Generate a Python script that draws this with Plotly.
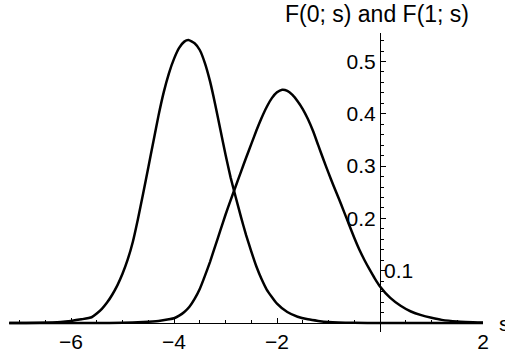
import plotly.graph_objects as go

# F(0; s): values
s0 = [-7.2, -6.6, -6.2, -6.0, -5.8, -5.6, -5.5, -5.4, -5.3, -5.2, -5.1, -5.0, -4.9, -4.8,
      -4.7, -4.6, -4.5, -4.4, -4.3, -4.2, -4.1, -4.0, -3.9, -3.8, -3.72, -3.6, -3.5, -3.4,
      -3.3, -3.2, -3.1, -3.0, -2.9, -2.8, -2.7, -2.6, -2.5, -2.4, -2.3, -2.2, -2.0, -1.8,
      -1.6, -1.4, -1.2, -1.0, -0.5, 0.0, 1.0, 2.0]
f0 = [0.0, 0.0005, 0.002, 0.004, 0.007, 0.011, 0.018, 0.027, 0.039, 0.054, 0.072, 0.094,
      0.121, 0.155, 0.199, 0.247, 0.297, 0.347, 0.397, 0.441, 0.477, 0.505, 0.526, 0.538,
      0.541, 0.535, 0.522, 0.497, 0.462, 0.418, 0.370, 0.322, 0.278, 0.240, 0.203, 0.168,
      0.137, 0.108, 0.084, 0.064, 0.037, 0.021, 0.012, 0.007, 0.004, 0.002, 0.0004, 0.0,
      0.0, 0.0]

# F(1; s): values
s1 = [-7.2, -5.5, -5.0, -4.6, -4.3, -4.1, -4.0, -3.9, -3.8, -3.7, -3.6, -3.5, -3.4, -3.3,
      -3.2, -3.1, -3.0, -2.9, -2.8, -2.7, -2.6, -2.5, -2.4, -2.3, -2.2, -2.1, -2.0, -1.9,
      -1.8, -1.7, -1.6, -1.5, -1.4, -1.3, -1.2, -1.1, -1.0, -0.9, -0.8, -0.7, -0.6, -0.5,
      -0.4, -0.3, -0.2, -0.1, 0.0, 0.2, 0.4, 0.6, 0.8, 1.0, 1.2, 1.5, 2.0]
f1 = [0.0, 0.0, 0.0005, 0.002, 0.004, 0.007, 0.009, 0.014, 0.021, 0.031, 0.046, 0.065,
      0.090, 0.117, 0.147, 0.177, 0.207, 0.235, 0.262, 0.289, 0.316, 0.342, 0.368, 0.392,
      0.413, 0.430, 0.441, 0.446, 0.444, 0.436, 0.424, 0.409, 0.390, 0.367, 0.340, 0.313,
      0.287, 0.262, 0.238, 0.213, 0.188, 0.163, 0.140, 0.120, 0.102, 0.085, 0.070, 0.048,
      0.033, 0.022, 0.015, 0.010, 0.006, 0.003, 0.0008]

x_ticks = [-6, -4, -2, 2]
x_tick_text = ["\u22126", "\u22124", "\u22122", "2"]
y_ticks = [0.1, 0.2, 0.3, 0.4, 0.5]
y_tick_text = ["", "0.2", "0.3", "0.4", "0.5"]

x_range = [-7.204, 2.0]
y_range = [-0.0172, 0.5545]

FONT = "Liberation Sans, Arial, Helvetica, sans-serif"
FS = 21

fig = go.Figure()
for xs, ys in [(s0, f0), (s1, f1)]:
    fig.add_trace(go.Scatter(x=xs, y=ys, mode="lines",
                             line=dict(color="black", width=2.5, shape="spline", smoothing=0.5),
                             showlegend=False, hoverinfo="skip"))

xpos = (0 - y_range[0]) / (y_range[1] - y_range[0])
ypos = (0 - x_range[0]) / (x_range[1] - x_range[0])

fig.update_layout(
    width=505, height=356,
    margin=dict(l=9, r=22, t=33, b=24),
    paper_bgcolor="white", plot_bgcolor="white",
    font=dict(family=FONT, size=FS, color="black"),
    xaxis=dict(range=x_range, anchor="free", position=xpos, showgrid=False, zeroline=False,
               showline=True, linecolor="black", linewidth=1.2,
               tickmode="array", tickvals=x_ticks, ticktext=x_tick_text,
               ticks="inside", ticklen=5, tickwidth=1, tickcolor="black",
               minor=dict(dtick=0.5, tick0=0, ticks="inside", ticklen=3, tickcolor="black", tickwidth=0.8),
               tickfont=dict(size=FS), automargin=False),
    yaxis=dict(range=y_range, anchor="free", position=ypos, showgrid=False, zeroline=False,
               showline=True, linecolor="black", linewidth=1.2,
               tickmode="array", tickvals=y_ticks, ticktext=y_tick_text,
               ticks="inside", ticklen=5, tickwidth=1, tickcolor="black",
               minor=dict(dtick=0.02, tick0=0, ticks="inside", ticklen=3, tickcolor="black", tickwidth=0.8),
               tickfont=dict(size=FS), ticklabelstandoff=0, automargin=False),
)

fig.add_annotation(text="F(0; s) and F(1; s)", xref="x", x=0, yref="paper", y=1.0635,
                   xanchor="center", yanchor="middle", xshift=-3, showarrow=False,
                   font=dict(size=23, family=FONT))
fig.add_annotation(text="0.1", xref="x", x=0, yref="y", y=0.1, xanchor="left", yanchor="middle",
                   xshift=2, showarrow=False, font=dict(size=FS, family=FONT))
fig.add_annotation(text="s", xref="paper", x=1, yref="y", y=0, xanchor="left", yanchor="middle",
                   xshift=14, showarrow=False, font=dict(size=FS, family=FONT))

fig.write_html("out.html", config={"displayModeBar": False},
               post_script="document.body.style.margin='0';")
